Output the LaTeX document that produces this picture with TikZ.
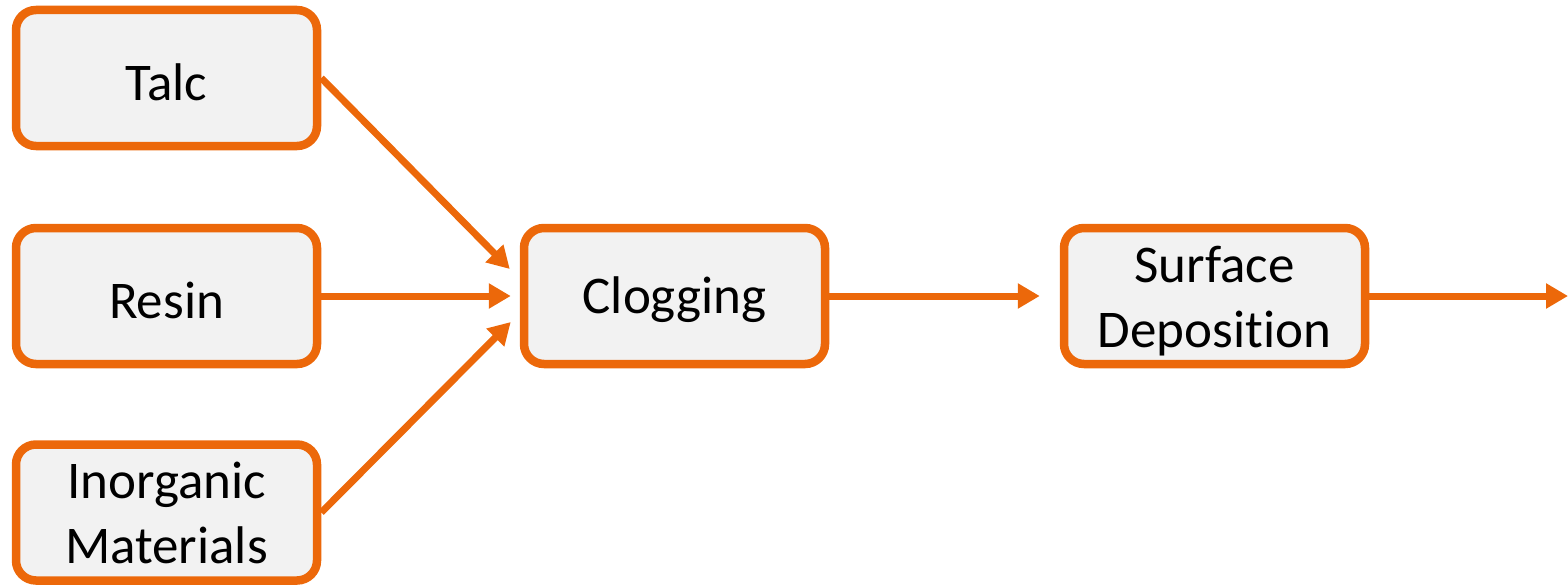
\documentclass[tikz,border=0pt]{standalone}
\usepackage{fontspec}
\setmainfont{Carlito}[Ligatures={NoCommon}]
\usetikzlibrary{arrows.meta,calc}
\definecolor{borange}{RGB}{236,104,10}
\definecolor{bfill}{RGB}{242,242,242}
\tikzset{
  box/.style={draw=borange, fill=bfill, line width=8.5pt, rounded corners=20pt,
    minimum width=301pt, minimum height=136pt, inner sep=0pt, align=center,
    font=\fontsize{53}{64}\selectfont},
  conn/.style={draw=borange, line width=7pt, -{Triangle[length=22pt,width=24pt]}}
}
\newcommand{\lowered}[1]{\raisebox{-4pt}[\height][\depth]{#1}}
\newcommand{\twolines}[2]{\raisebox{-6pt}[\height][\depth]{\begin{tabular}{@{}c@{}}#1\\[1pt]#2\end{tabular}}}
\begin{document}
\begin{tikzpicture}[x=1pt,y=-1pt]
\useasboundingbox (0,0) rectangle (1568,586);
\node[box] (talc) at (166.5,78) {\lowered{Talc}};
\node[box] (resin) at (166.5,296) {\lowered{Resin}};
\node[box] (inorg) at (166.5,512.5) {\twolines{Inorganic}{Materials}};
\node[box] (clog) at (674.5,296) {\lowered{Clogging}};
\node[box] (surf) at (1214.5,296) {\twolines{Surface}{Deposition}};
\coordinate (t1) at ($(clog.west)+(-10,-27)$);
\coordinate (t2) at ($(clog.west)+(-9,0)$);
\coordinate (t3) at ($(clog.west)+(-9,26)$);
\coordinate (t4) at ($(surf.west)+(-20,0)$);
\coordinate (out) at (1568,296);
\draw[conn] (talc.east) -- (t1);
\draw[conn] (resin.east) -- (t2);
\draw[conn] (inorg.east) -- (t3);
\draw[conn] (clog.east) -- (t4);
\draw[conn] (surf.east) -- (out);
\end{tikzpicture}
\end{document}
